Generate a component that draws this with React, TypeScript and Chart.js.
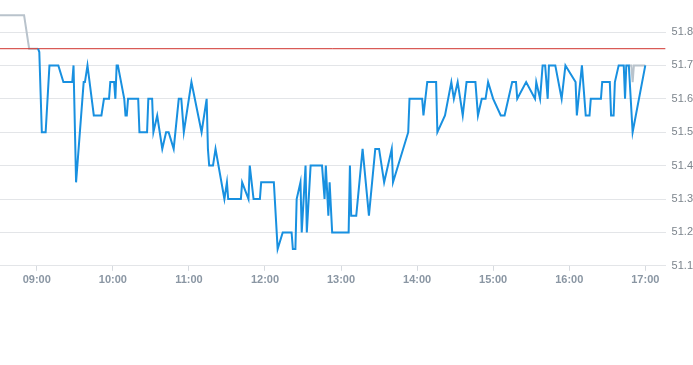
import React, { useEffect, useRef } from "react";
import { Chart, registerables } from "chart.js";

Chart.register(...registerables);

// Main session (blue)
const times: string[] = [
  "09:01","09:02","09:04","09:07","09:10","09:17","09:21","09:28","09:29","09:31",
  "09:37","09:38","09:40","09:45","09:51","09:53","09:57","09:58","10:01","10:02",
  "10:03","10:04","10:09","10:10","10:11","10:12","10:20","10:21","10:27","10:28",
  "10:31","10:32","10:35","10:39","10:42","10:44","10:48","10:52","10:54","10:56",
  "11:02","11:10","11:14","11:15","11:16","11:19","11:21","11:28","11:30","11:31",
  "11:41","11:42","11:47","11:48","11:51","11:56","11:57","12:07","12:10","12:14",
  "12:21","12:22","12:24","12:25","12:28","12:29","12:32","12:33","12:36","12:45",
  "12:47","12:48","12:50","12:51","12:53","13:06","13:07","13:08","13:12","13:17",
  "13:22","13:27","13:30","13:34","13:40","13:41","13:53","13:54","14:04","14:05",
  "14:08","14:15","14:16","14:22","14:27","14:29","14:32","14:36","14:39","14:46",
  "14:48","14:51","14:54","14:56","15:00","15:06","15:09","15:15","15:18","15:19",
  "15:26","15:33","15:34","15:37","15:39","15:41","15:43","15:44","15:49","15:54",
  "15:57","16:05","16:06","16:10","16:13","16:16","16:17","16:25","16:26","16:32",
  "16:33","16:35","16:36","16:39","16:43","16:44","16:45","16:47","16:50","17:00"
];
const prices: number[] = [
  51.75,51.74,51.5,51.5,51.7,51.7,51.65,51.65,51.7,51.35,
  51.65,51.65,51.7,51.55,51.55,51.6,51.6,51.65,51.65,51.6,
  51.7,51.7,51.6,51.55,51.55,51.6,51.6,51.5,51.5,51.6,
  51.6,51.5,51.55,51.45,51.5,51.5,51.45,51.6,51.6,51.5,
  51.65,51.5,51.6,51.45,51.4,51.4,51.45,51.3,51.35,51.3,
  51.3,51.35,51.3,51.4,51.3,51.3,51.35,51.35,51.15,51.2,
  51.2,51.15,51.15,51.3,51.35,51.2,51.4,51.2,51.4,51.4,
  51.3,51.4,51.25,51.35,51.2,51.2,51.4,51.25,51.25,51.45,
  51.25,51.45,51.45,51.35,51.45,51.35,51.5,51.6,51.6,51.55,
  51.65,51.65,51.5,51.55,51.65,51.6,51.65,51.55,51.65,51.65,
  51.55,51.6,51.6,51.65,51.6,51.55,51.55,51.65,51.65,51.6,
  51.65,51.6,51.65,51.6,51.7,51.7,51.6,51.7,51.7,51.6,
  51.7,51.65,51.55,51.7,51.55,51.55,51.6,51.6,51.65,51.65,
  51.55,51.55,51.65,51.7,51.7,51.6,51.7,51.7,51.5,51.7
];

// Pre-market (grey)
const preTimes: string[] = ["08:31","08:50","08:54","09:01"];
const prePrices: number[] = [51.85,51.85,51.75,51.75];

// Closing auction (grey)
const postTimes: string[] = ["16:47","16:49","16:50","16:51","17:00"];
const postPrices: number[] = [51.7,51.7,51.65,51.7,51.7];

const prevClose = 51.75;

const xMinTime = "08:31";
const xMaxTime = "17:16";
const hourTicks: string[] = ["09:00","10:00","11:00","12:00","13:00","14:00","15:00","16:00","17:00"];

const yMin = 51.1;
const yMax = 51.9;
const yStep = 0.1;

const toMin = (s: string) => {
  const [h, m] = s.split(":").map(Number);
  return h * 60 + m;
};
const fmt = (v: number) => {
  const h = Math.floor(v / 60);
  const m = Math.round(v - h * 60);
  return String(h).padStart(2, "0") + ":" + String(m).padStart(2, "0");
};
const pts = (ts: string[], vs: number[]) => ts.map((t, i) => ({ x: toMin(t), y: vs[i] }));

export default function App() {
  const ref = useRef<HTMLCanvasElement | null>(null);
  useEffect(() => {
    if (!ref.current) return;
    const font = { family: "'Liberation Sans', Arial, sans-serif", size: 11 };
    const chart = new Chart(ref.current, {
      type: "line",
      data: {
        datasets: [
          {
            data: pts(times, prices),
            borderColor: "#1890e0",
            borderWidth: 2,
            pointRadius: 0,
            tension: 0,
          },
          {
            data: [
              { x: toMin(xMinTime), y: prevClose },
              { x: toMin(xMaxTime), y: prevClose },
            ],
            borderColor: "#d0342f",
            borderWidth: 1,
            pointRadius: 0,
          },
          {
            data: pts(preTimes, prePrices),
            borderColor: "#b9c3cc",
            borderWidth: 2,
            pointRadius: 0,
          },
          {
            data: pts(postTimes, postPrices),
            borderColor: "#b9c3cc",
            borderWidth: 2,
            pointRadius: 0,
          },
        ],
      },
      options: {
        animation: false,
        responsive: false,
        maintainAspectRatio: false,
        layout: { padding: { left: 0, right: 0, top: 0, bottom: 0 } },
        plugins: { legend: { display: false }, tooltip: { enabled: false } },
        scales: {
          x: {
            type: "linear",
            min: toMin(xMinTime),
            max: toMin(xMaxTime),
            afterBuildTicks: (axis: any) => {
              axis.ticks = hourTicks.map((t) => ({ value: toMin(t) }));
            },
            border: { display: false },
            grid: {
              drawOnChartArea: false,
              drawTicks: true,
              tickLength: 5,
              color: "#d6dadf",
            },
            ticks: {
              padding: 3,
              maxRotation: 0,
              autoSkip: false,
              color: "#8a96a3",
              font: { ...font, weight: "bold" },
              callback: (v: any) => fmt(Number(v)),
            },
          },
          y: {
            position: "right",
            min: yMin,
            max: yMax,
            afterBuildTicks: (axis: any) => {
              axis.ticks = axis.ticks.filter((t: any) => Math.abs(t.value - yMax) > 1e-6);
            },
            border: { display: false },
            grid: { color: "#e3e5e8", drawTicks: false },
            ticks: {
              stepSize: yStep,
              padding: 6,
              color: "#7c848c",
              font,
              callback: (v: any) => Number(v).toFixed(1),
            },
          },
        },
      },
    });
    return () => chart.destroy();
  }, []);
  return (
    <div style={{ position: "absolute", left: 0, top: -14, width: 699, height: 304 }}>
      <canvas ref={ref} width={699} height={304} style={{ display: "block" }} />
    </div>
  );
}
